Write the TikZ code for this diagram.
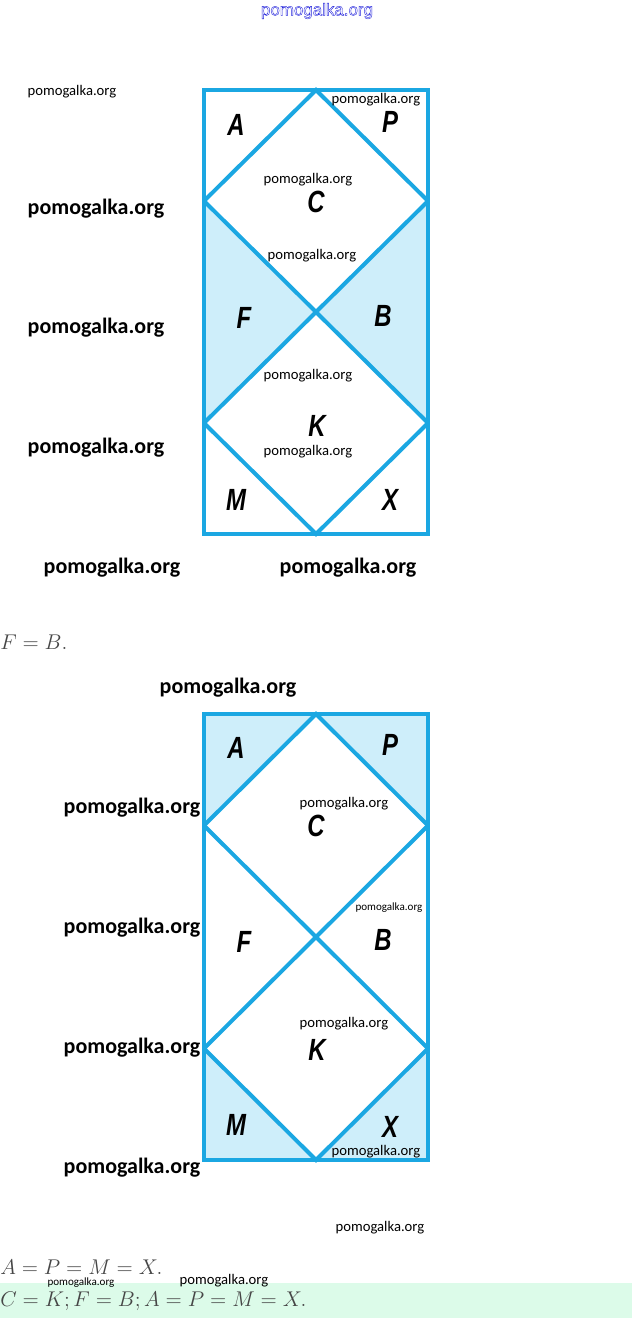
\documentclass[tikz,border=0pt]{standalone}
\usepackage{fontspec}
\newfontfamily\wmfont{Carlito}
\newfontfamily\headfont{Liberation Sans}
\newfontfamily\letfont[FakeStretch=0.78]{Liberation Sans}
\definecolor{lineblue}{RGB}{27,167,226}
\definecolor{fillblue}{RGB}{206,238,250}
\definecolor{ansgreen}{RGB}{220,251,233}
\definecolor{mathgray}{RGB}{70,70,70}
\definecolor{headblue}{RGB}{40,40,220}
\newcommand\eqtext[1]{\scalebox{1.11}{$#1$}}
\tikzset{
  wmbig/.style={yshift=-1.5pt,font=\wmfont\bfseries\fontsize{16.5}{18}\selectfont},
  wm/.style={yshift=-1.5pt,font=\wmfont\fontsize{11}{12}\selectfont},
  wmtiny/.style={yshift=-1pt,font=\wmfont\fontsize{8.3}{9}\selectfont},
  lab/.style={font=\letfont\bfseries\itshape\fontsize{23}{24}\selectfont},
  frame/.style={lineblue,line width=3pt},
  eq/.style={anchor=west,inner sep=0pt,mathgray,font=\fontsize{14.4}{16}\selectfont}
}
\begin{document}
\begin{tikzpicture}[x=0.75pt,y=-0.75pt]
	\useasboundingbox (0,0) rectangle (632,1318);
	\node[headblue,font=\headfont\fontsize{12.7}{14}\selectfont] (head) at (317,11)
	  {\special{pdf:literal direct 1 Tr 0.3 w}pomogalka.org\special{pdf:literal direct 0 Tr}};
	% first picture
	\fill[fillblue] (204,201)--(316,312)--(204,423)--cycle (428,201)--(316,312)--(428,423)--cycle;
	\draw[frame] (204,90) rectangle (428,534);
	\draw[frame] (204,201)--(316,90)--(428,201) (204,423)--(316,534)--(428,423);
	\draw[frame] (204,201)--(428,423) (428,201)--(204,423);
	\node[lab] (A1) at (236,125) {A}; \node[lab] (P1) at (390,122) {P};
	\node[lab] (C1) at (316,202) {C};
	\node[lab] (F1) at (244,318) {F}; \node[lab] (B1) at (383,316) {B};
	\node[lab] (K1) at (317,426) {K};
	\node[lab] (M1) at (236,500) {M}; \node[lab] (X1) at (390,500) {X};
	\node[wm] (w1) at (72,90) {pomogalka.org};
	\node[wm] (w2) at (376,98) {pomogalka.org};
	\node[wm] (w3) at (308,178) {pomogalka.org};
	\node[wm] (w4) at (312,254) {pomogalka.org};
	\node[wm] (w5) at (308,374) {pomogalka.org};
	\node[wm] (w6) at (308,450) {pomogalka.org};
	\node[wmbig] (w7) at (96,207) {pomogalka.org};
	\node[wmbig] (w8) at (96,326) {pomogalka.org};
	\node[wmbig] (w9) at (96,446) {pomogalka.org};
	\node[wmbig] (w10) at (112,566) {pomogalka.org};
	\node[wmbig] (w11) at (348,566) {pomogalka.org};
	\node[eq] (eq1) at (0,642) {\eqtext{F=B.}};
	\node[wmbig] (w12) at (228,686) {pomogalka.org};
	% second picture
	\fill[fillblue] (204,714)--(316,714)--(204,825.5)--cycle (316,714)--(428,714)--(428,825.5)--cycle
	  (204,1048.5)--(316,1160)--(204,1160)--cycle (428,1048.5)--(428,1160)--(316,1160)--cycle;
	\draw[frame] (204,714) rectangle (428,1160);
	\draw[frame] (204,825.5)--(316,714)--(428,825.5) (204,1048.5)--(316,1160)--(428,1048.5);
	\draw[frame] (204,825.5)--(428,1048.5) (428,825.5)--(204,1048.5);
	\node[lab] (A2) at (236,748) {A}; \node[lab] (P2) at (390,745) {P};
	\node[lab] (C2) at (316,826) {C};
	\node[lab] (F2) at (244,942) {F}; \node[lab] (B2) at (383,940) {B};
	\node[lab] (K2) at (317,1050) {K};
	\node[lab] (M2) at (236,1125) {M}; \node[lab] (X2) at (390,1127) {X};
	\node[wmbig] (w13) at (132,806) {pomogalka.org};
	\node[wm] (w14) at (344,802) {pomogalka.org};
	\node[wmbig] (w15) at (132,926) {pomogalka.org};
	\node[wmtiny] (w16) at (389,906) {pomogalka.org};
	\node[wmbig] (w17) at (132,1046) {pomogalka.org};
	\node[wm] (w18) at (344,1022) {pomogalka.org};
	\node[wmbig] (w19) at (132,1166) {pomogalka.org};
	\node[wm] (w20) at (376,1150) {pomogalka.org};
	\node[wm] (w21) at (380,1226) {pomogalka.org};
	% answer
	\fill[ansgreen] (0,1283) rectangle (632,1318);
	\node[eq] (eq2) at (0,1267) {\eqtext{A=P=M=X.}};
	\node[eq] (eq3) at (0,1301) {\eqtext{C=K; F=B; A=P=M=X.}};
	\node[wmtiny] (w22) at (81,1281) {pomogalka.org};
	\node[wm] (w23) at (224,1279) {pomogalka.org};
\end{tikzpicture}
\end{document}
